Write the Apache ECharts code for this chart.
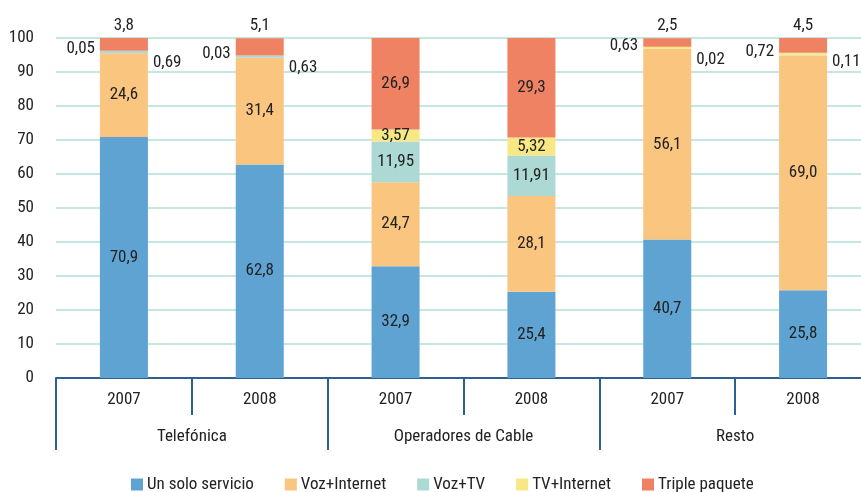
<!DOCTYPE html>
<html>
<head>
<meta charset="utf-8">
<script src="https://cdn.jsdelivr.net/npm/echarts@6/dist/echarts.min.js"></script>
<style>
html,body{margin:0;padding:0;background:#fff;}
#chart{width:861px;height:492px;}
</style>
</head>
<body>
<div id="chart"></div>
<script>
const years = ['2007', '2008', '2007', '2008', '2007', '2008'];
const groups = ['Telefónica', 'Operadores de Cable', 'Resto'];
const yTicks = [0, 10, 20, 30, 40, 50, 60, 70, 80, 90, 100];

const unSolo = [70.9, 62.8, 32.9, 25.4, 40.7, 25.8];
const vozInternet = [24.6, 31.4, 24.7, 28.1, 56.1, 69.0];
const vozTV = [0.69, 0.63, 11.95, 11.91, 0.02, 0.11];
const tvInternet = [0.05, 0.03, 3.57, 5.32, 0.63, 0.72];
const triple = [3.8, 5.1, 26.9, 29.3, 2.5, 4.5];

const seriesNames = ['Un solo servicio', 'Voz+Internet', 'Voz+TV', 'TV+Internet', 'Triple paquete'];
const seriesColors = ['#5fa3d3', '#f9c57f', '#acd9d3', '#f8e885', '#ee8263'];
const seriesDecimals = [1, 1, 2, 2, 1];
const outsideIdx = [0, 1, 4, 5];

const FONT = '"Roboto Condensed", "Liberation Sans Narrow", sans-serif';
const FS = 17;
const TXT = '#222222';
const AXIS = '#2f5f8f';

function fmt(dec) {
  return function (p) { return Number(p.value).toFixed(dec).replace('.', ','); };
}

function buildData(values, si) {
  return values.map(function (v, i) {
    const d = { value: v };
    if (outsideIdx.indexOf(i) >= 0) {
      if (si === 2) d.label = { position: 'right', distance: 5, offset: [0, i === 5 ? 6 : 11] };
      if (si === 3) d.label = { position: 'left', distance: 5, offset: [0, -2] };
      if (si === 4) d.label = { position: 'top', distance: 4 };
    }
    return d;
  });
}

const allValues = [unSolo, vozInternet, vozTV, tvInternet, triple];

const series = allValues.map(function (vals, si) {
  return {
    name: seriesNames[si],
    type: 'bar',
    stack: 'total',
    xAxisIndex: 0,
    barWidth: 48,
    itemStyle: { color: seriesColors[si] },
    label: {
      show: true,
      position: 'inside',
      color: TXT,
      fontFamily: FONT,
      fontSize: FS,
      formatter: fmt(seriesDecimals[si])
    },
    emphasis: { disabled: true },
    data: buildData(vals, si)
  };
});

const chart = echarts.init(document.getElementById('chart'), null, { renderer: 'canvas' });
chart.setOption({
  animation: false,
  backgroundColor: '#ffffff',
  textStyle: { fontFamily: FONT, color: TXT },
  grid: { left: 56, top: 38, width: 815, height: 340, containLabel: false, outerBoundsMode: 'none' },
  legend: {
    data: seriesNames,
    top: 471,
    left: 126,
    icon: 'rect',
    itemWidth: 12,
    itemHeight: 12,
    itemGap: 31,
    textStyle: { fontFamily: FONT, fontSize: FS, color: TXT, padding: [0, 0, 0, -1] }
  },
  xAxis: [
    {
      type: 'category',
      data: years,
      position: 'bottom',
      axisLine: { show: true, lineStyle: { color: AXIS, width: 2 } },
      axisTick: { show: true, interval: 0, length: 37, lineStyle: { color: AXIS, width: 2 } },
      axisLabel: { interval: 0, margin: 13, fontFamily: FONT, fontSize: FS, color: TXT }
    },
    {
      type: 'category',
      data: groups,
      position: 'bottom',
      axisLine: { show: false },
      axisTick: { show: true, interval: 0, length: 72, lineStyle: { color: AXIS, width: 2 } },
      axisLabel: { interval: 0, margin: 50, fontFamily: FONT, fontSize: FS, color: TXT }
    }
  ],
  yAxis: {
    type: 'value',
    min: yTicks[0],
    max: yTicks[yTicks.length - 1],
    interval: 10,
    axisLine: { show: false },
    axisTick: { show: false },
    axisLabel: { margin: 22, fontFamily: FONT, fontSize: FS, color: TXT },
    splitLine: { show: true, lineStyle: { color: '#b2dfd8', width: 1.5 } }
  },
  series: series
});
</script>
</body>
</html>
